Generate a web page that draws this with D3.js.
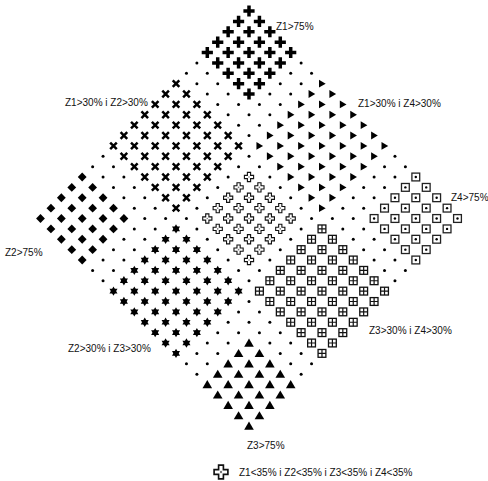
<!DOCTYPE html>
<html>
<head>
<meta charset="utf-8">
<script src="https://cdn.jsdelivr.net/npm/d3@7"></script>
<style>
  html, body { margin: 0; padding: 0; background: #fff; }
  text { font-family: "Liberation Sans", Arial, sans-serif; font-size: 10px; fill: #111; }
</style>
</head>
<body>
<svg id="chart" width="488" height="481"></svg>
<script>
// Grid steps (% along each axis of the diamond): u toward Z4 (right), v toward Z2 (left)
const uSteps = [0,5,10,15,20,25,30,35,40,45,50,55,60,65,70,75,80,85,90,95,100];
const vSteps = [0,5,10,15,20,25,30,35,40,45,50,55,60,65,70,75,80,85,90,95,100];

// Categories and the u/v band each occupies (inclusive, in %)
const categories = ["Z1>75%", "Z1>30% i Z2>30%", "Z1>30% i Z4>30%", "Z4>75%",
                    "Z2>75%", "Z2>30% i Z3>30%", "Z3>30% i Z4>30%", "Z3>75%",
                    "Z1<35% i Z2<35% i Z3<35% i Z4<35%"];
const symbolsOf = ["plus", "cross", "triRight", "boxDot", "diamond", "star", "boxPlus", "triUp", "center"];
const uMin = [0,  0, 35, 80,  0, 35, 70, 80, 40];
const uMax = [20, 30, 65, 100, 20, 65, 100, 100, 60];
const vMin = [0, 35,  0,  0, 80, 70, 35, 80, 40];
const vMax = [20, 65, 30, 20, 100, 100, 65, 100, 60];

// Label placement (left x, baseline y) for region labels
const labelX = [276, 65, 358, 451, 5, 68, 369, 247];
const labelY = [30, 106, 107, 201, 256, 352, 334, 449];

const legendText = "Z1<35% i Z2<35% i Z3<35% i Z4<35%";

const svg = d3.select("#chart");

const sx = d3.scaleLinear().domain([-100, 100]).range([40.5, 457.5]);
const sy = d3.scaleLinear().domain([0, 200]).range([11, 426]);

const points = [];
uSteps.forEach(u => vSteps.forEach(v => {
  let cat = -1;
  for (let k = categories.length - 1; k >= 0; k--) {
    if (u >= uMin[k] && u <= uMax[k] && v >= vMin[k] && v <= vMax[k]) { cat = k; break; }
  }
  points.push({u, v, cat});
}));

function drawSymbol(g, type) {
  switch (type) {
    case "plus":
      g.append("path").attr("d", "M-5.6,-1.75h11.2v3.5h-11.2z M-1.75,-5.6h3.5v11.2h-3.5z").attr("fill", "#000");
      break;
    case "cross":
      g.append("path").attr("d", "M-3.3,-3.3L3.3,3.3M-3.3,3.3L3.3,-3.3").attr("stroke", "#000").attr("stroke-width", 2.5).attr("fill", "none");
      break;
    case "triRight":
      g.append("path").attr("d", "M-3,-3.9L3.7,0L-3,3.9Z").attr("fill", "#000");
      break;
    case "boxDot":
      g.append("rect").attr("x", -3.9).attr("y", -3.9).attr("width", 7.8).attr("height", 7.8)
        .attr("fill", "#fff").attr("stroke", "#222").attr("stroke-width", 1.3);
      g.append("circle").attr("r", 1.2).attr("fill", "#000");
      break;
    case "diamond":
      g.append("path").attr("d", "M0,-4.4L4.4,0L0,4.4L-4.4,0Z").attr("fill", "#000");
      break;
    case "star":
      g.append("path").attr("d", d3.symbol().type(d3.symbolTriangle).size(28)()).attr("fill", "#000");
      g.append("path").attr("d", d3.symbol().type(d3.symbolTriangle).size(28)()).attr("transform", "rotate(180)").attr("fill", "#000");
      break;
    case "boxPlus":
      g.append("rect").attr("x", -3.9).attr("y", -3.9).attr("width", 7.8).attr("height", 7.8)
        .attr("fill", "#fff").attr("stroke", "#111").attr("stroke-width", 1.3);
      g.append("path").attr("d", "M-3.9,0H3.9M0,-3.9V3.9").attr("stroke", "#111").attr("stroke-width", 1.2);
      break;
    case "triUp":
      g.append("path").attr("d", "M0,-4.4L4.8,3.7L-4.8,3.7Z").attr("fill", "#000");
      break;
    case "center":
      g.append("path").attr("d", "M-1.6,-4.6H1.6V-1.6H4.6V1.6H1.6V4.6H-1.6V1.6H-4.6V-1.6H-1.6Z")
        .attr("fill", "#fff").attr("stroke", "#111").attr("stroke-width", 1.1);
      g.append("circle").attr("r", 0.8).attr("fill", "#777");
      break;
    default:
      g.append("circle").attr("r", 1.5).attr("fill", "#000");
  }
}

const pts = svg.append("g").selectAll("g.pt").data(points).join("g")
  .attr("class", "pt")
  .attr("transform", d => `translate(${sx(d.u - d.v)},${sy(d.u + d.v)})`);
pts.each(function(d) { drawSymbol(d3.select(this), d.cat >= 0 ? symbolsOf[d.cat] : "dot"); });

svg.append("g").selectAll("text").data(categories.slice(0, 8)).join("text")
  .attr("x", (d, i) => labelX[i])
  .attr("y", (d, i) => labelY[i])
  .text(d => d);

// Legend
const lg = svg.append("g").attr("transform", "translate(221,472) scale(1.5)");
drawSymbol(lg, "center");
svg.append("text").attr("x", 239).attr("y", 476).text(legendText);
</script>
</body>
</html>
